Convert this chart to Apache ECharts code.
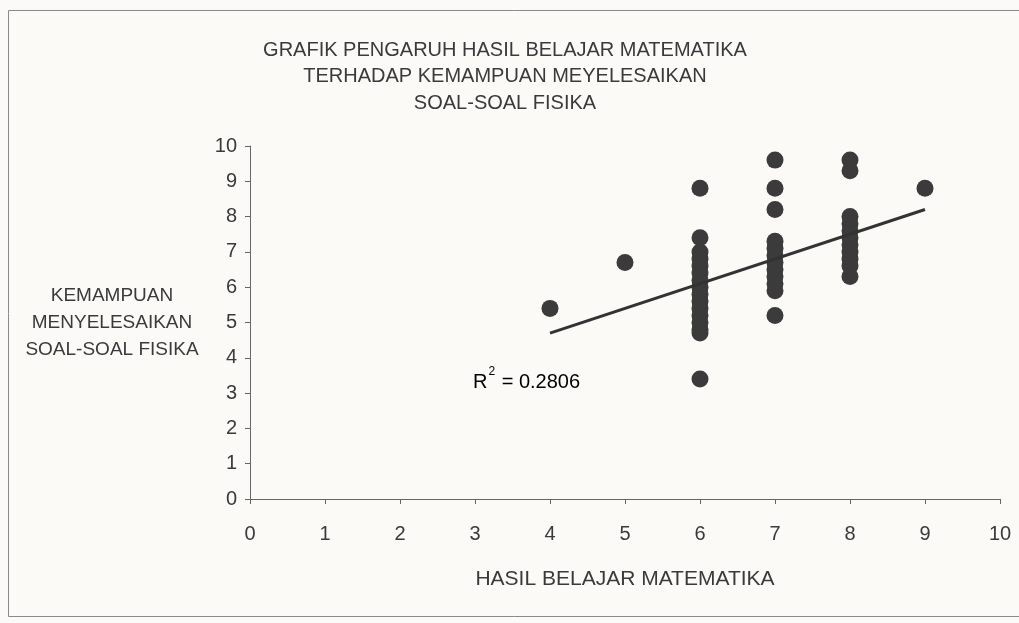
<!DOCTYPE html>
<html>
<head>
<meta charset="utf-8">
<script src="https://cdn.jsdelivr.net/npm/echarts@6/dist/echarts.min.js"></script>
<style>
  html, body { margin: 0; padding: 0; background: #fcfaf7; }
  #chart { width: 1019px; height: 623px; }
</style>
</head>
<body>
<div id="chart"></div>
<script>
// nilai hasil belajar matematika (x) dan kemampuan fisika (y)
var points4 = [[4, 5.4]];
var points5 = [[5, 6.7]];
var points6 = [[6, 8.8], [6, 7.4], [6, 7.0], [6, 6.8], [6, 6.6], [6, 6.4], [6, 6.2], [6, 6.0],
               [6, 5.8], [6, 5.6], [6, 5.4], [6, 5.2], [6, 5.0], [6, 4.8], [6, 4.7], [6, 3.4]];
var points7 = [[7, 9.6], [7, 8.8], [7, 8.2], [7, 7.3], [7, 7.1], [7, 6.9], [7, 6.7], [7, 6.5],
               [7, 6.3], [7, 6.1], [7, 5.9], [7, 5.2]];
var points8 = [[8, 9.6], [8, 9.3], [8, 8.0], [8, 7.8], [8, 7.6], [8, 7.4], [8, 7.2], [8, 7.0],
               [8, 6.8], [8, 6.6], [8, 6.3]];
var points9 = [[9, 8.8]];
var trendLine = [[4, 4.7], [9, 8.2]];
var axisTicks = [0, 10, 1]; // min, max, interval

var allPoints = [].concat(points4, points5, points6, points7, points8, points9);

var myChart = echarts.init(document.getElementById('chart'));
var textColor = '#3a3a3a';
var fontFam = 'Liberation Sans, Arial, sans-serif';

var option = {
    backgroundColor: '#fcfaf7',
    animation: false,
    title: {
        text: 'GRAFIK PENGARUH HASIL BELAJAR MATEMATIKA\nTERHADAP KEMAMPUAN MEYELESAIKAN\nSOAL-SOAL FISIKA',
        left: 500,
        top: 32,
        textAlign: 'center',
        textStyle: {
            color: textColor,
            fontFamily: fontFam,
            fontWeight: 'normal',
            fontSize: 20,
            lineHeight: 26.5
        }
    },
    grid: {
        left: 250,
        right: 19,
        top: 146,
        bottom: 124
    },
    xAxis: {
        type: 'value',
        min: axisTicks[0],
        max: axisTicks[1],
        interval: axisTicks[2],
        name: 'HASIL BELAJAR MATEMATIKA',
        nameLocation: 'middle',
        nameGap: 70,
        nameTextStyle: { color: textColor, fontFamily: fontFam, fontSize: 21 },
        axisLine: { lineStyle: { color: '#666', width: 1 } },
        axisTick: { length: 5, lineStyle: { color: '#666' } },
        axisLabel: { margin: 25, color: textColor, fontFamily: fontFam, fontSize: 20 },
        splitLine: { show: false }
    },
    yAxis: {
        type: 'value',
        min: axisTicks[0],
        max: axisTicks[1],
        interval: axisTicks[2],
        axisLine: { show: true, lineStyle: { color: '#666', width: 1 } },
        axisTick: { show: true, length: 5, lineStyle: { color: '#666' } },
        axisLabel: { margin: 13, color: textColor, fontFamily: fontFam, fontSize: 20 },
        splitLine: { show: false }
    },
    graphic: [
        {
            type: 'rect',
            silent: true,
            shape: { x: 8.5, y: 10.5, width: 1030, height: 606 },
            style: { fill: 'none', stroke: '#8a8a8a', lineWidth: 1 }
        },
        {
            type: 'text',
            x: 112,
            y: 282,
            style: {
                text: 'KEMAMPUAN\nMENYELESAIKAN\nSOAL-SOAL FISIKA',
                align: 'center',
                verticalAlign: 'top',
                fill: textColor,
                font: '19px ' + fontFam,
                lineHeight: 27
            }
        },
        {
            type: 'text',
            left: 473,
            top: 366,
            style: {
                text: '{a|R}{s|2}{a| = 0.2806}',
                rich: {
                    a: { fontSize: 20, fontFamily: fontFam, color: textColor, verticalAlign: 'bottom', lineHeight: 26 },
                    s: { fontSize: 12, fontFamily: fontFam, color: textColor, verticalAlign: 'top', lineHeight: 26, padding: [0, 1, 10, 1] }
                }
            }
        }
    ],
    series: [
        {
            name: 'Data',
            type: 'scatter',
            data: allPoints,
            symbol: 'circle',
            symbolSize: 17,
            itemStyle: { color: '#3b3b3b', opacity: 1 }
        },
        {
            name: 'Trend',
            type: 'line',
            data: trendLine,
            symbol: 'none',
            lineStyle: { color: '#333', width: 3 },
            z: 3
        }
    ]
};
myChart.setOption(option);
window.addEventListener('resize', myChart.resize);
</script>
</body>
</html>
